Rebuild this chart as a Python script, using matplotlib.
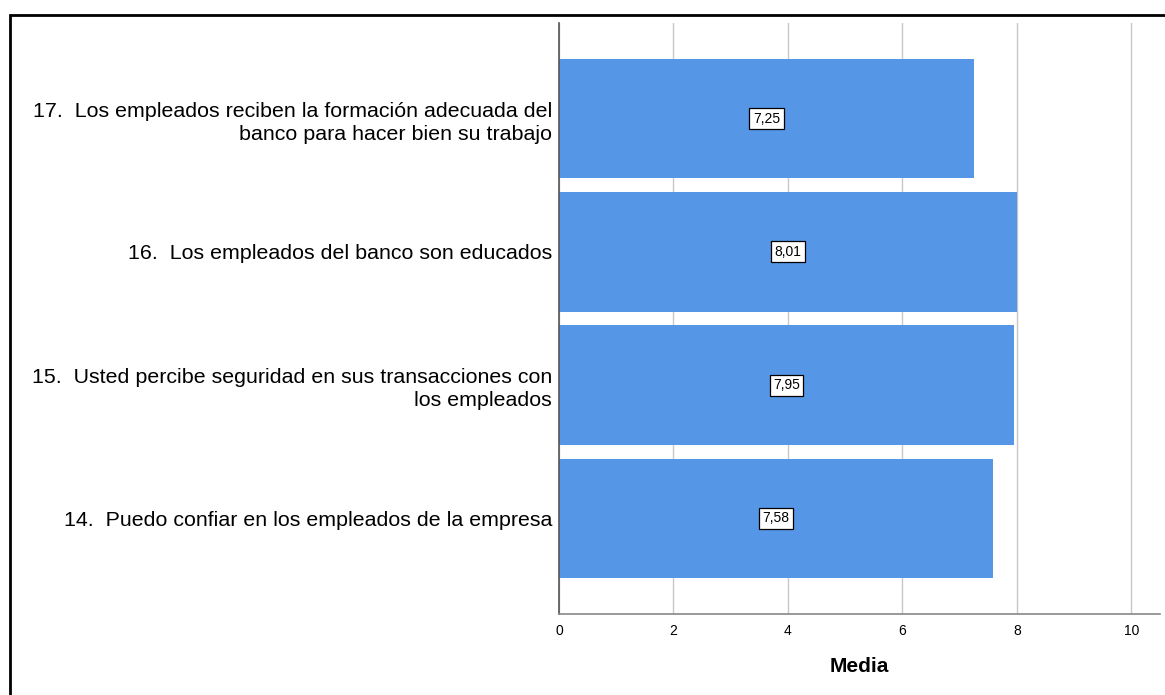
import matplotlib.pyplot as plt
from matplotlib.patches import Rectangle

plt.rcParams['font.family'] = ['Liberation Sans', 'DejaVu Sans']

# categories, top to bottom
items = [
    '17.  Los empleados reciben la formación adecuada del\nbanco para hacer bien su trabajo',
    '16.  Los empleados del banco son educados',
    '15.  Usted percibe seguridad en sus transacciones con\nlos empleados',
    '14.  Puedo confiar en los empleados de la empresa',
]
means = [7.25, 8.01, 7.95, 7.58]
xticks = [0, 2, 4, 6, 8, 10]

bar_color = '#5596E6'

fig = plt.figure(figsize=(11.65, 6.95), dpi=100)
ax = fig.add_axes([559 / 1165, 1 - 614 / 695, (1160 - 559) / 1165, (614 - 23) / 695])

pos = list(range(len(items)))
ax.barh(pos, means, height=0.895, color=bar_color, zorder=2)

for y, v in zip(pos, means):
    ax.text(v / 2, y, f'{v:.2f}'.replace('.', ','), ha='center', va='center',
            fontsize=10, color='black', zorder=3,
            bbox=dict(boxstyle='square,pad=0.25', fc='white', ec='black', lw=0.9))

ax.set_xlim(0, 10.5)
ax.set_ylim(len(items) - 1 + 0.72, -0.72)
ax.set_xticks(xticks)
ax.set_xticklabels([str(t) for t in xticks], fontsize=10)
ax.set_yticks(pos)
ax.set_yticklabels(items, fontsize=15.4, linespacing=1.28)
ax.tick_params(axis='both', length=0)
ax.tick_params(axis='x', pad=7)
ax.tick_params(axis='y', pad=5)

ax.grid(axis='x', color='#c8c8c8', lw=1, zorder=0)
ax.set_axisbelow(True)
for s in ['top', 'right']:
    ax.spines[s].set_visible(False)
ax.spines['left'].set_color('#555555')
ax.spines['bottom'].set_color('#888888')
ax.spines['left'].set_linewidth(1.2)
ax.spines['bottom'].set_linewidth(1.2)

ax.set_xlabel('Media', fontsize=15, fontweight='bold', labelpad=14)

# outer frame
fig.patches.append(Rectangle((10 / 1165, -0.1), 1.2, 1 - 15 / 695 + 0.1,
                             transform=fig.transFigure, fill=False,
                             ec='black', lw=2, zorder=10))

fig.savefig('out.png', dpi=100)
